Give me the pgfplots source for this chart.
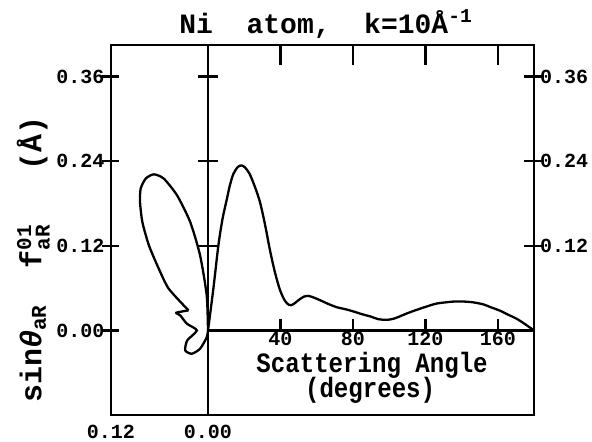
\documentclass[border=0pt]{standalone}
\usepackage{fontspec}
\setmainfont{Liberation Mono}
\newfontfamily\lab[FakeStretch=0.86]{Liberation Mono}
\usepackage{amsmath}
\usepackage{pgfplots}
\pgfplotsset{compat=1.18}

\pgfplotsset{
  frame/.style={
    scale only axis, height=185pt, ymin=-0.12, ymax=0.405,
    axis line style={line width=1.2pt},
    major tick style={line width=1.2pt, black},
    tick label style={font=\bfseries\fontsize{10}{12}\selectfont},
  },
}

\begin{document}
\begin{tikzpicture}
\useasboundingbox (-55.5pt,-13.5pt) rectangle (240.5pt,207.5pt);

% left part: the loop, x in Angstrom, running leftwards
\begin{axis}[frame, at={(0pt,0pt)}, anchor=south west, width=48.5pt,
    xmin=0, xmax=0.12, x dir=reverse,
    xtick={0,0.12}, xticklabels={0.00,0.12}, xtick pos=left,
    xtick style={draw=none},
    xticklabel style={yshift=2.5pt},
    ytick={0,0.12,0.24,0.36}, yticklabels={0.00,0.12,0.24,0.36},
    ytick pos=left, tick align=center, major tick length=8.5pt,
    yticklabel style={xshift=4.5pt},
    ylabel={sin\textit{θ}${}_{\text{aR}}$\ \ f${}^{\text{01}}_{\text{aR}}$\ \ \ (Å)},
    every axis y label/.style={at={(rel axis cs:-0.8,0.42)}, rotate=90,
      anchor=center, font=\bfseries\fontsize{15}{17}\selectfont},
  ]
\addplot[line width=1.15pt, smooth, tension=0.4] coordinates {
  (0,0) (0.0016,0.0497) (0.0098,0.1065) (0.0220,0.1538) (0.0383,0.1917)
  (0.0547,0.2154) (0.0670,0.2215) (0.0771,0.2154) (0.0833,0.2012)
  (0.0841,0.1822) (0.0812,0.1538) (0.0731,0.1207) (0.0609,0.0876)
  (0.0486,0.0592) (0.0241,0.0284)
};
\addplot[line width=1.15pt, smooth, tension=0.4] coordinates {
  (0.0241,0.0284) (0.0392,0.0251) (0.0343,0.0213) (0.0261,0.0095)
  (0.0138,0) (0.0257,-0.0142) (0.0282,-0.0284) (0.0200,-0.0331)
  (0.0098,-0.0260) (0.0016,-0.0099) (0,0)
};
\end{axis}

% right part: against scattering angle
\begin{axis}[frame, at={(48.5pt,0pt)}, anchor=south west, width=163pt,
    xmin=0, xmax=180, clip=false,
    xtick={40,80,120,160}, xticklabels={}, xtick pos=right,
    xtick align=inside, ytick align=center, major tick length=10pt,
    ytick={0.12,0.24,0.36}, yticklabels={0.12,0.24,0.36},
    ytick pos=both, yticklabel pos=right,
    yticklabel style={xshift=-5.5pt},
  ]
\addplot[line width=1.15pt, smooth, tension=0.5] coordinates {
  (0,0) (3,0.06) (5.7,0.12) (8,0.158) (10.3,0.185) (12,0.205) (14,0.222)
  (16.5,0.232) (18.6,0.234) (20.5,0.231) (23,0.222) (26,0.203)
  (28.7,0.182) (31.5,0.15) (34.2,0.114) (37,0.082) (39.8,0.057)
  (42.5,0.042) (44.9,0.036) (47,0.037) (50,0.043) (53,0.048) (55.4,0.049)
  (58,0.047) (61.8,0.043) (66,0.038) (71,0.033) (76,0.030) (80.2,0.027)
  (85,0.023) (89.5,0.020) (94,0.016) (98.7,0.015) (103,0.017)
  (109.7,0.024) (115,0.029) (120.8,0.034) (126,0.038) (131.8,0.040)
  (136,0.041) (141,0.041) (146,0.040) (152,0.037) (156,0.033)
  (161.2,0.028) (166,0.022) (170.4,0.0166) (175,0.009) (180,0)
};
\node[anchor=base, font=\bfseries\fontsize{14}{16}\selectfont]
  at (axis cs:65.2,0.422) {Ni\ \ atom,\ \ k=10Å\textsuperscript{-1}};
\node[anchor=base, inner sep=0pt, font=\lab\bfseries\fontsize{14}{16}\selectfont]
  at (axis cs:90.6,-0.0592) {Scattering\ Angle};
\node[anchor=base, inner sep=0pt, font=\lab\bfseries\fontsize{14}{16}\selectfont]
  at (axis cs:89.5,-0.0947) {(degrees)};
\end{axis}

% zero line with its ticks
\begin{axis}[at={(48.5pt,0pt)}, anchor=south west, scale only axis,
    width=163pt, height=185pt, xmin=0, xmax=180, ymin=-0.12, ymax=0.405,
    axis x line=middle, axis y line=none,
    axis line style={line width=1.2pt, -},
    major tick style={line width=1.2pt, black},
    xtick={40,80,120,160}, xticklabels={40,80,120,160},
    tick align=inside, major tick length=5.5pt, ytick=\empty,
    tick label style={font=\bfseries\fontsize{10}{12}\selectfont, inner sep=1pt},
    xticklabel style={yshift=0.5pt},
  ]
\end{axis}
\end{tikzpicture}
\end{document}
